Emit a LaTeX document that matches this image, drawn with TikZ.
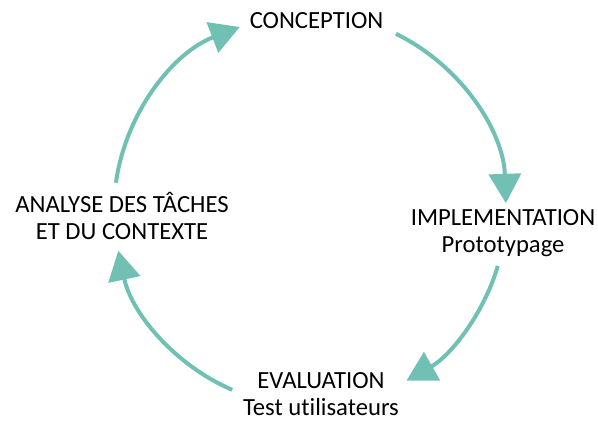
\documentclass[tikz,border=0pt]{standalone}
\usepackage{fontspec}
\setmainfont[Ligatures={NoCommon}]{Carlito}
\usepackage{xcolor}
\usetikzlibrary{arrows.meta}
\definecolor{cycleteal}{RGB}{112,193,180}
\tikzset{
  cyclefont/.style={font=\fontsize{18.5}{20.3}\selectfont},
  cyclelabel/.style={cyclefont, align=center, inner sep=2pt},
  cyclearrow/.style={draw=cycleteal, line width=3pt, -{Triangle[length=22pt, width=24pt]}},
}
\begin{document}
\begin{tikzpicture}[x=0.75pt, y=0.75pt]
		\useasboundingbox (0,0) rectangle (598,423);
		% Stages of the cycle
		\node[cyclelabel, anchor=base] (conception) at (316.5,394) {CONCEPTION};
		\node[cyclelabel] (implementation) at (503,190) {IMPLEMENTATION\\Prototypage};
		\node[cyclelabel] (evaluation) at (321,28.5) {EVALUATION\\Test utilisateurs};
		\node[cyclelabel] (analyse) at (122,207) {ANALYSE DES TÂCHES\\ET DU CONTEXTE};

		% Circular arrows
		\coordinate (ctr) at (310,213);
		\draw[cyclearrow] (ctr) ++(172:196) arc[start angle=172, end angle=111, radius=196];
		\draw[cyclearrow] (ctr) ++(64:196) arc[start angle=64, end angle=2, radius=196];
		\draw[cyclearrow] (ctr) ++(-16.6:196) arc[start angle=-16.6, end angle=-60.5, radius=196];
		\draw[cyclearrow] (ctr) ++(246.6:196) arc[start angle=246.6, end angle=192, radius=196];
	\end{tikzpicture}
\end{document}
